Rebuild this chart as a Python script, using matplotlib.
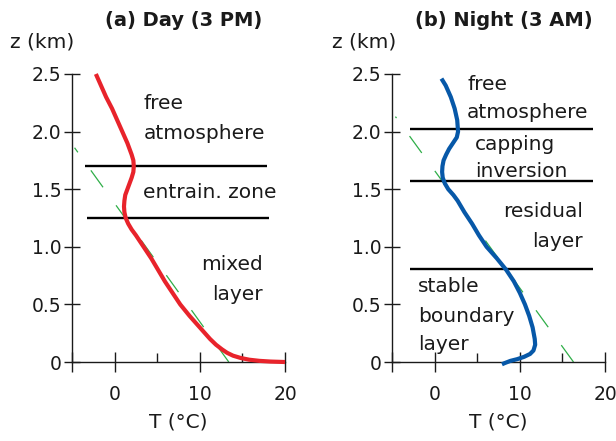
import matplotlib
matplotlib.use("Agg")
import matplotlib.pyplot as plt

# ── Soundings: T (°C) vs z (km) ──────────────────────────────────────────────
day_T = [-2.2, -1.6, -1.0, -0.3, 0.3, 0.9, 1.5, 2.0, 2.2, 2.25, 2.2, 2.0,
         1.75, 1.5, 1.25, 1.15, 1.1, 1.15, 1.3, 1.6, 2.0, 2.5, 3.4, 4.3,
         5.1, 5.9, 6.8, 7.7, 8.8, 10.0, 11.2, 11.9, 12.6, 13.2, 13.9, 14.8,
         15.8, 17.0, 18.3, 20.0]
day_z = [2.50, 2.40, 2.30, 2.20, 2.10, 2.00, 1.90, 1.80, 1.75, 1.70, 1.65, 1.60,
         1.55, 1.50, 1.45, 1.40, 1.35, 1.30, 1.25, 1.20, 1.15, 1.10, 1.00, 0.90,
         0.80, 0.70, 0.60, 0.50, 0.40, 0.30, 0.20, 0.15, 0.11, 0.08, 0.055, 0.035,
         0.02, 0.01, 0.004, 0.0]

night_T = [0.8, 1.3, 1.9, 2.35, 2.65, 2.75, 2.6, 2.15, 1.7, 1.35, 1.05, 0.92,
           0.88, 0.95, 1.2, 1.6, 2.2, 2.7, 3.5, 4.4, 5.2, 6.1, 7.3, 8.4,
           9.3, 10.0, 10.6, 11.1, 11.5, 11.75, 11.8, 11.6, 11.2, 10.5, 9.7,
           8.9, 8.2, 7.9]
night_z = [2.46, 2.40, 2.30, 2.20, 2.10, 2.00, 1.95, 1.90, 1.85, 1.80, 1.75, 1.70,
           1.65, 1.60, 1.55, 1.50, 1.45, 1.40, 1.30, 1.20, 1.10, 1.00, 0.90, 0.80,
           0.70, 0.60, 0.50, 0.40, 0.30, 0.20, 0.15, 0.10, 0.07, 0.045, 0.025,
           0.01, -0.01, -0.02]

# dry adiabats (dashed green), end points
day_adiabat_T = [13.4, -4.7]
day_adiabat_z = [0.0, 1.86]
night_adiabat_T = [16.3, -4.6]
night_adiabat_z = [0.0, 2.13]

# layer boundaries (z) and their T extent
day_bounds = [1.70, 1.25]
day_bounds_T = [(-3.5, 17.9), (-3.2, 18.1)]
night_bounds = [2.02, 1.57, 0.81]
night_bounds_T = [(-2.9, 18.6), (-2.9, 18.6), (-2.9, 18.6)]

# layer names: (text, T, z, ha)
day_labels = [
    ("free", 3.4, 2.20, "left"),
    ("atmosphere", 3.4, 1.94, "left"),
    ("entrain. zone", 3.3, 1.42, "left"),
    ("mixed", 17.4, 0.80, "right"),
    ("layer", 17.4, 0.54, "right"),
]
night_labels = [
    ("free", 3.8, 2.36, "left"),
    ("atmosphere", 3.8, 2.12, "left"),
    ("capping", 4.7, 1.84, "left"),
    ("inversion", 4.7, 1.61, "left"),
    ("residual", 17.4, 1.26, "right"),
    ("layer", 17.4, 1.00, "right"),
    ("stable", -1.9, 0.61, "left"),
    ("boundary", -1.9, 0.35, "left"),
    ("layer", -1.9, 0.10, "left"),
]

xticks = [-5, 0, 10, 20]
xticklabels = ["", "0", "10", "20"]
xminor = [5, 15]
yticks = [0, 0.5, 1.0, 1.5, 2.0, 2.5]
yticklabels = ["0", "0.5", "1.0", "1.5", "2.0", "2.5"]

RED = "#e8232b"
BLUE = "#0758a8"
GREEN = "#2fae48"
INK = "#1a1a1a"

plt.rcParams["font.family"] = ["DejaVu Sans"]
plt.rcParams["lines.scale_dashes"] = False

fig = plt.figure(figsize=(6.16, 4.41), dpi=100)
ax_a = fig.add_axes([0.1169, 0.1791, 0.3458, 0.6531])
ax_b = fig.add_axes([0.6364, 0.1791, 0.3458, 0.6531])


def style_axes(ax):
    ax.set_xlim(-5, 20)
    ax.set_ylim(0, 2.5)
    ax.patch.set_visible(False)
    for s in ("top", "right"):
        ax.spines[s].set_visible(False)
    for s in ("left", "bottom"):
        ax.spines[s].set_linewidth(1.0)
        ax.spines[s].set_color(INK)
    ax.set_xticks(xticks)
    ax.set_xticklabels(xticklabels)
    ax.set_xticks(xminor, minor=True)
    ax.set_yticks(yticks)
    ax.set_yticklabels(yticklabels)
    ax.tick_params(axis="x", which="major", direction="inout", length=14,
                   width=1, pad=9.5, labelsize=13.5, colors=INK)
    ax.tick_params(axis="x", which="minor", direction="in", length=6.5,
                   width=1, colors=INK)
    ax.tick_params(axis="y", direction="inout", length=12, width=1, pad=1.5,
                   labelsize=13.5, colors=INK)
    ax.set_xlabel("T (°C)", fontsize=14.5, color=INK, labelpad=6)


def draw_panel(ax, T, z, color, adT, adz, bounds, boundsT, labels):
    ax.plot(adT, adz, color=GREEN, lw=0.9, dashes=(15, 16), clip_on=False,
            zorder=1)
    for zb, (t0, t1) in zip(bounds, boundsT):
        ax.hlines(zb, t0, t1, color="black", lw=1.7, zorder=2)
    ax.plot(T, z, color=color, lw=3.0, clip_on=False, zorder=3,
            solid_joinstyle="round", solid_capstyle="butt")
    for txt, tx, tz, ha in labels:
        ax.text(tx, tz, txt, ha=ha, va="baseline", fontsize=14.5, color=INK,
                zorder=4)


style_axes(ax_a)
style_axes(ax_b)
draw_panel(ax_a, day_T, day_z, RED, day_adiabat_T, day_adiabat_z,
           day_bounds, day_bounds_T, day_labels)
draw_panel(ax_b, night_T, night_z, BLUE, night_adiabat_T, night_adiabat_z,
           night_bounds, night_bounds_T, night_labels)

# titles and z labels
fig.text(184 / 616, 1 - 20 / 441, "(a) Day (3 PM)", ha="center", va="center",
         fontsize=14, fontweight="bold", color=INK)
fig.text(504 / 616, 1 - 21 / 441, "(b) Night (3 AM)", ha="center", va="center",
         fontsize=14, fontweight="bold", color=INK)
fig.text(10 / 616, 1 - 42 / 441, "z (km)", ha="left", va="center",
         fontsize=14.5, color=INK)
fig.text(332 / 616, 1 - 42 / 441, "z (km)", ha="left", va="center",
         fontsize=14.5, color=INK)

fig.savefig("out.png", dpi=100)
